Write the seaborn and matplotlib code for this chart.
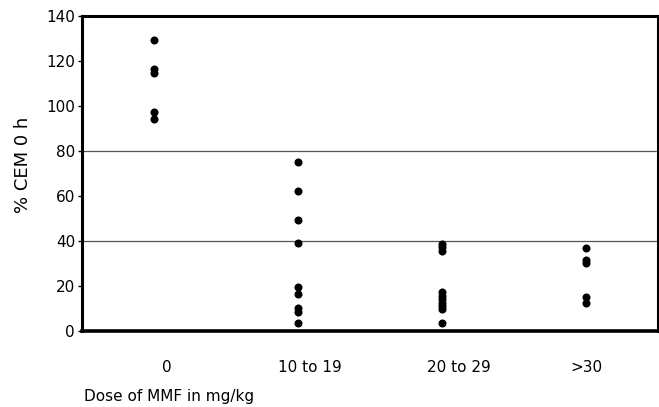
import numpy as np
import pandas as pd
import seaborn as sns
import matplotlib.pyplot as plt
from matplotlib.transforms import ScaledTranslation

# Dose groups (mg/kg) and % CEM at 0 h for each patient
dose_groups = ["0", "10 to 19", "20 to 29", ">30"]
cem_dose_0 = [129, 116.5, 114.5, 97, 94]
cem_dose_10_19 = [75, 62, 49, 39, 19.5, 16.5, 10, 8.5, 3.5]
cem_dose_20_29 = [38.5, 37, 35.5, 17, 15.5, 14, 12.5, 11, 9.5, 3.5]
cem_dose_30 = [36.7, 31.4, 30.2, 14.8, 12.5]

y_ticks = [0, 20, 40, 60, 80, 100, 120, 140]
ref_levels = [40, 80]

df = pd.DataFrame({
    "dose": (["0"] * len(cem_dose_0) + ["10 to 19"] * len(cem_dose_10_19)
             + ["20 to 29"] * len(cem_dose_20_29) + [">30"] * len(cem_dose_30)),
    "cem": cem_dose_0 + cem_dose_10_19 + cem_dose_20_29 + cem_dose_30,
})

sns.set_style("white")
plt.rcParams["font.family"] = ["DejaVu Sans"]
plt.rcParams["text.color"] = "black"
plt.rcParams["axes.labelcolor"] = "black"
plt.rcParams["xtick.color"] = "black"
plt.rcParams["ytick.color"] = "black"

fig = plt.figure(figsize=(6.59, 4.07), dpi=100)
ax = fig.add_axes([0.1244, 0.1875, 0.874, 0.774])

for lv in ref_levels:
    ax.axhline(lv, color="#555555", linewidth=0.9, zorder=0)

sns.stripplot(data=df, x="dose", y="cem", order=dose_groups, jitter=False,
              color="black", size=5.8, linewidth=0, ax=ax, zorder=3)

ax.set_xlim(-0.5, 3.5)
ax.set_ylim(0, 140)
ax.set_yticks(y_ticks)
ax.set_yticklabels([str(t) for t in y_ticks], fontsize=11)
ax.set_xticks(range(len(dose_groups)))
ax.set_xticklabels(dose_groups, fontsize=11)

ax.tick_params(axis="x", length=0, pad=21, colors="black")
ax.tick_params(axis="y", length=3, width=1, direction="out", pad=2, left=True, colors="black")

# nudge the category labels slightly to the right
shifts_px = [13, 12, 17, 0]
for lbl, dx in zip(ax.get_xticklabels(), shifts_px):
    lbl.set_transform(lbl.get_transform() + ScaledTranslation(dx / 100, 0, fig.dpi_scale_trans))

for side, sp in ax.spines.items():
    sp.set_visible(True)
    sp.set_color("black")
    sp.set_linewidth(2.2)
ax.spines["bottom"].set_linewidth(2.6)

ax.set_ylabel("% CEM 0 h", fontsize=13, va="center", color="black")
ax.yaxis.set_label_coords(-0.102, 0.526)
ax.set_xlabel("Dose of MMF in mg/kg", fontsize=11, ha="left", va="center", color="black")
ax.xaxis.set_label_coords(0.004, -0.208)

fig.savefig("out.png", dpi=100)
